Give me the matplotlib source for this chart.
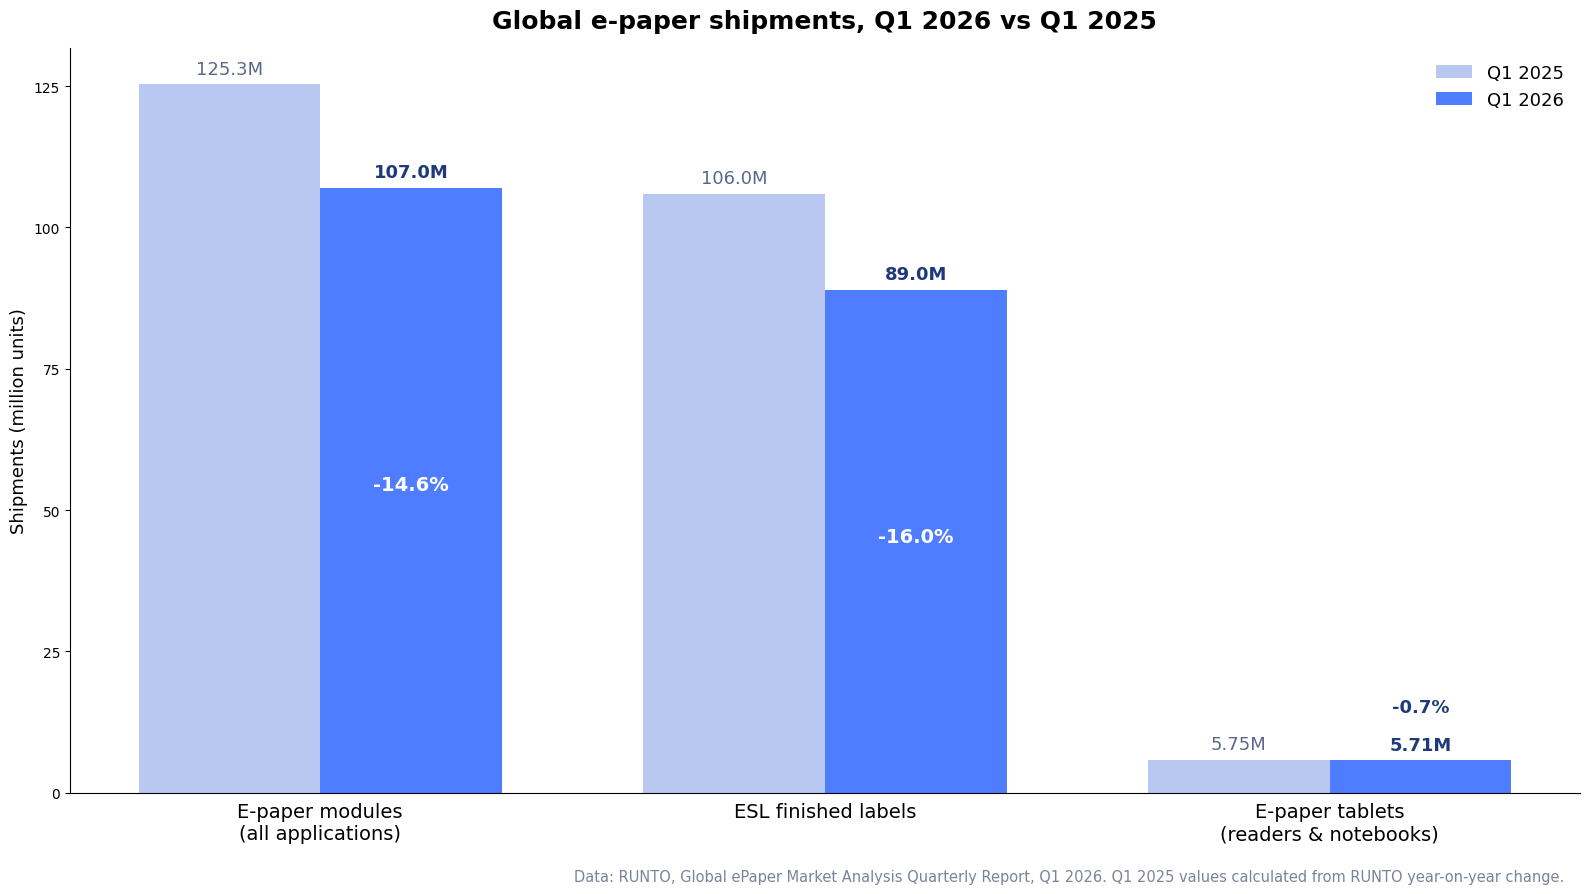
import numpy as np
import matplotlib.pyplot as plt

categories = ["E-paper modules\n(all applications)", "ESL finished labels",
              "E-paper tablets\n(readers & notebooks)"]
q1_2025 = [125.3, 106.0, 5.75]
q1_2026 = [107.0, 89.0, 5.71]
labels_2025 = ["125.3M", "106.0M", "5.75M"]
labels_2026 = ["107.0M", "89.0M", "5.71M"]
changes = ["-14.6%", "-16.0%", "-0.7%"]

LIGHT = "#B9C8F0"
BLUE = "#4F7DFF"
NAVY = "#1F3A7A"
GREYBLUE = "#5A6888"

fig, ax = plt.subplots(figsize=(15.89, 8.95), dpi=100)
fig.subplots_adjust(left=0.044, right=0.9943, top=0.9456, bottom=0.1133)

x = np.arange(len(categories))
w = 0.36
b1 = ax.bar(x - w / 2, q1_2025, w, color=LIGHT, label="Q1 2025")
b2 = ax.bar(x + w / 2, q1_2026, w, color=BLUE, label="Q1 2026")

for i in range(len(categories)):
    ax.text(x[i] - w / 2, q1_2025[i] + 1.2, labels_2025[i], ha="center", va="bottom",
            fontsize=13, color=GREYBLUE)
    ax.text(x[i] + w / 2, q1_2026[i] + 1.2, labels_2026[i], ha="center", va="bottom",
            fontsize=13, color=NAVY, fontweight="bold")
    if q1_2026[i] > 20:
        # yoy change inside the tall bars
        ax.text(x[i] + w / 2, q1_2026[i] * 0.51, changes[i], ha="center", va="center",
                fontsize=14, color="white", fontweight="bold")
    else:
        ax.text(x[i] + w / 2, q1_2026[i] + 7.8, changes[i], ha="center", va="bottom",
                fontsize=13, color=NAVY, fontweight="bold")

ax.set_xlim(-0.496, 2.496)
ax.set_ylim(0, 131.8)
ax.set_xticks(x)
ax.set_xticklabels(categories, fontsize=14)
ax.tick_params(axis="x", length=0, pad=7)
ax.set_yticks([0, 25, 50, 75, 100, 125])
ax.tick_params(axis="y", labelsize=10)
ax.set_ylabel("Shipments (million units)", fontsize=13)
ax.spines["top"].set_visible(False)
ax.spines["right"].set_visible(False)

ax.set_title("Global e-paper shipments, Q1 2026 vs Q1 2025", fontsize=18,
             fontweight="bold", pad=14)
ax.legend(loc="upper right", frameon=False, fontsize=13, handlelength=2.0)

fig.text(0.9847, 0.011, "Data: RUNTO, Global ePaper Market Analysis Quarterly Report, Q1 2026. "
         "Q1 2025 values calculated from RUNTO year-on-year change.",
         ha="right", va="bottom", fontsize=10.5, color="#7A8499")

fig.savefig("out.png", dpi=100)
